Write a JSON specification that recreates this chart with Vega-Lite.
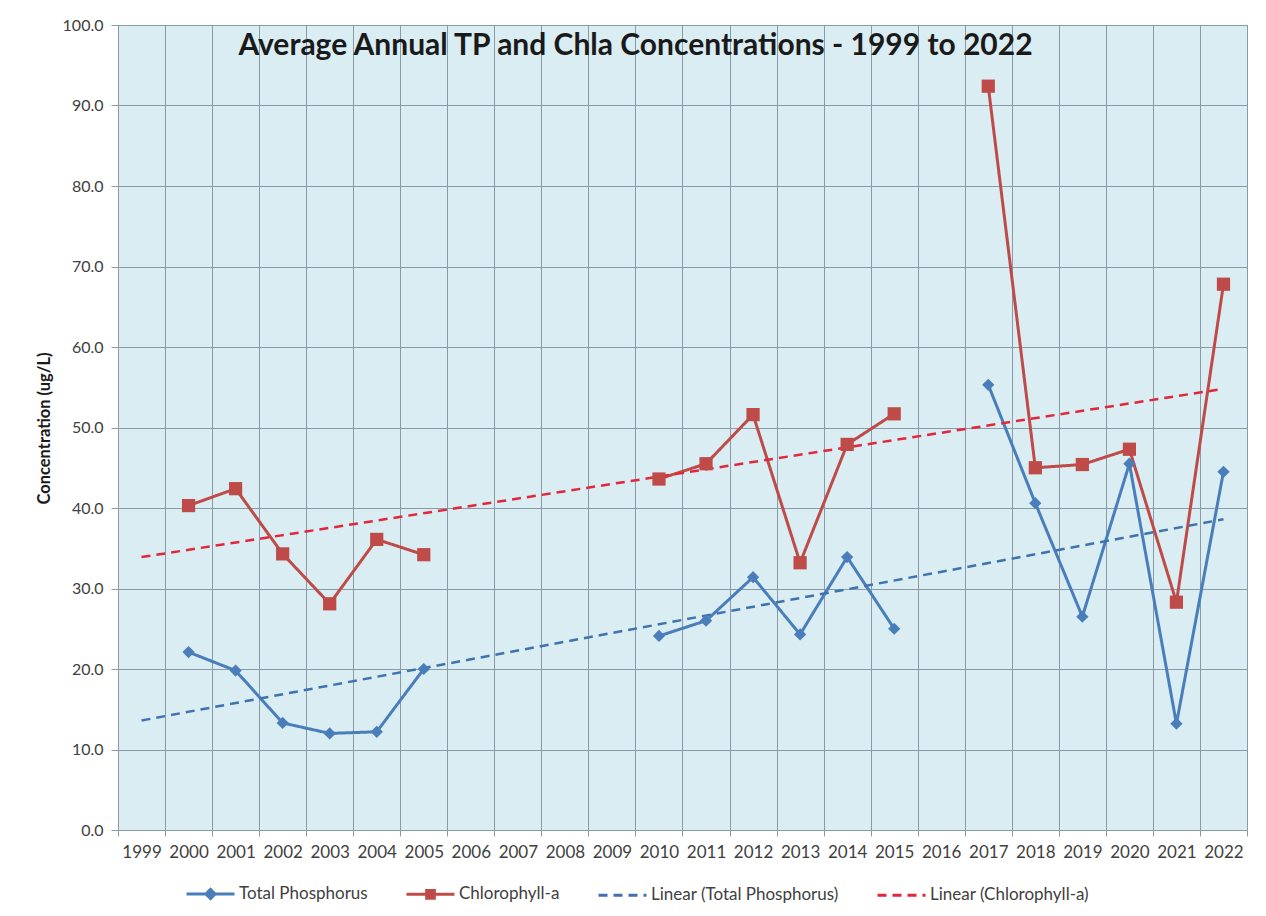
{
  "$schema": "https://vega.github.io/schema/vega-lite/v6.json",
  "width": 1129,
  "height": 805,
  "autosize": {"type": "none"},
  "padding": {"left": 118, "top": 25, "right": 19, "bottom": 86},
  "background": "#ffffff",
  "title": {
    "text": "Average Annual TP and Chla Concentrations - 1999 to 2022",
    "font": "Lato",
    "fontSize": 30,
    "fontWeight": "bold",
    "color": "#1a1a1a",
    "anchor": "middle",
    "frame": "group",
    "baseline": "alphabetic",
    "offset": -68,
    "dx": -47
  },
  "config": {
    "font": "Lato",
    "view": {"fill": "#DAEDF3", "stroke": "#8A9BA7", "strokeWidth": 1}
  },
  "data": {
    "values": [
      {"year": 2000, "series": "Total Phosphorus", "value": 22.1},
      {"year": 2001, "series": "Total Phosphorus", "value": 19.8},
      {"year": 2002, "series": "Total Phosphorus", "value": 13.3},
      {"year": 2003, "series": "Total Phosphorus", "value": 12.0},
      {"year": 2004, "series": "Total Phosphorus", "value": 12.2},
      {"year": 2005, "series": "Total Phosphorus", "value": 20.0},
      {"year": 2006, "series": "Total Phosphorus", "value": null},
      {"year": 2010, "series": "Total Phosphorus", "value": 24.1},
      {"year": 2011, "series": "Total Phosphorus", "value": 26.0},
      {"year": 2012, "series": "Total Phosphorus", "value": 31.4},
      {"year": 2013, "series": "Total Phosphorus", "value": 24.3},
      {"year": 2014, "series": "Total Phosphorus", "value": 33.9},
      {"year": 2015, "series": "Total Phosphorus", "value": 25.0},
      {"year": 2016, "series": "Total Phosphorus", "value": null},
      {"year": 2017, "series": "Total Phosphorus", "value": 55.3},
      {"year": 2018, "series": "Total Phosphorus", "value": 40.6},
      {"year": 2019, "series": "Total Phosphorus", "value": 26.5},
      {"year": 2020, "series": "Total Phosphorus", "value": 45.5},
      {"year": 2021, "series": "Total Phosphorus", "value": 13.2},
      {"year": 2022, "series": "Total Phosphorus", "value": 44.5},
      {"year": 2000, "series": "Chlorophyll-a", "value": 40.3},
      {"year": 2001, "series": "Chlorophyll-a", "value": 42.4},
      {"year": 2002, "series": "Chlorophyll-a", "value": 34.3},
      {"year": 2003, "series": "Chlorophyll-a", "value": 28.1},
      {"year": 2004, "series": "Chlorophyll-a", "value": 36.1},
      {"year": 2005, "series": "Chlorophyll-a", "value": 34.2},
      {"year": 2006, "series": "Chlorophyll-a", "value": null},
      {"year": 2010, "series": "Chlorophyll-a", "value": 43.6},
      {"year": 2011, "series": "Chlorophyll-a", "value": 45.5},
      {"year": 2012, "series": "Chlorophyll-a", "value": 51.6},
      {"year": 2013, "series": "Chlorophyll-a", "value": 33.2},
      {"year": 2014, "series": "Chlorophyll-a", "value": 47.9},
      {"year": 2015, "series": "Chlorophyll-a", "value": 51.7},
      {"year": 2016, "series": "Chlorophyll-a", "value": null},
      {"year": 2017, "series": "Chlorophyll-a", "value": 92.4},
      {"year": 2018, "series": "Chlorophyll-a", "value": 45.0},
      {"year": 2019, "series": "Chlorophyll-a", "value": 45.4},
      {"year": 2020, "series": "Chlorophyll-a", "value": 47.3},
      {"year": 2021, "series": "Chlorophyll-a", "value": 28.3},
      {"year": 2022, "series": "Chlorophyll-a", "value": 67.8},
      {"year": 1999, "series": "Linear (Total Phosphorus)", "value": 13.6},
      {"year": 2022, "series": "Linear (Total Phosphorus)", "value": 38.6},
      {"year": 1999, "series": "Linear (Chlorophyll-a)", "value": 33.9},
      {"year": 2022, "series": "Linear (Chlorophyll-a)", "value": 54.8}
    ]
  },
  "encoding": {
    "x": {
      "field": "year",
      "type": "ordinal",
      "scale": {
        "type": "band",
        "domain": [1999, 2000, 2001, 2002, 2003, 2004, 2005, 2006, 2007, 2008, 2009, 2010, 2011, 2012, 2013, 2014, 2015, 2016, 2017, 2018, 2019, 2020, 2021, 2022],
        "paddingInner": 0,
        "paddingOuter": 0
      },
      "axis": {
        "title": null,
        "tickBand": "extent",
        "grid": true,
        "gridColor": "#8A9BA7",
        "gridOpacity": 1,
        "domainColor": "#8A9BA7",
        "tickColor": "#8A9BA7",
        "tickSize": 6,
        "labelAngle": 0,
        "labelFont": "Lato",
        "labelFontSize": 17,
        "labelColor": "#404040",
        "labelPadding": 8
      }
    },
    "y": {
      "field": "value",
      "type": "quantitative",
      "scale": {"domain": [0, 100], "nice": false},
      "axis": {
        "title": "Concentration (ug/L)",
        "titleFont": "Lato",
        "titleFontSize": 16.5,
        "titleFontWeight": "bold",
        "titleColor": "#1a1a1a",
        "titleAngle": 270,
        "titleAlign": "center",
        "titleBaseline": "middle",
        "titleX": -74,
        "titleY": 403,
        "values": [0, 10, 20, 30, 40, 50, 60, 70, 80, 90, 100],
        "format": ".1f",
        "grid": true,
        "gridColor": "#8A9BA7",
        "gridOpacity": 1,
        "domainColor": "#8A9BA7",
        "tickColor": "#8A9BA7",
        "tickSize": 7,
        "labelFont": "Lato",
        "labelFontSize": 16,
        "labelColor": "#404040",
        "labelPadding": 8
      }
    },
    "color": {
      "field": "series",
      "type": "nominal",
      "scale": {
        "domain": ["Total Phosphorus", "Chlorophyll-a", "Linear (Total Phosphorus)", "Linear (Chlorophyll-a)"],
        "range": ["#4A7EBB", "#BE4B48", "#3F73AE", "#E3263B"]
      },
      "legend": {
        "title": null,
        "orient": "none",
        "legendX": 67,
        "legendY": 843,
        "direction": "horizontal",
        "columns": 4,
        "columnPadding": 32,
        "labelFont": "Lato",
        "labelFontSize": 17,
        "labelColor": "#404040",
        "labelLimit": 400,
        "labelOffset": 3,
        "symbolSize": 2304,
        "symbolStrokeWidth": 3,
        "symbolOpacity": 1
      }
    }
  },
  "layer": [
    {
      "transform": [{"filter": "datum.series === 'Total Phosphorus' || datum.series === 'Chlorophyll-a'"}],
      "mark": {"type": "line", "strokeWidth": 3, "opacity": 1},
      "encoding": {
        "strokeDash": {
          "field": "series",
          "type": "nominal",
          "scale": {
            "domain": ["Total Phosphorus", "Chlorophyll-a", "Linear (Total Phosphorus)", "Linear (Chlorophyll-a)"],
            "range": [[1, 0], [1, 0], [9, 6], [9, 6]]
          }
        }
      }
    },
    {
      "transform": [{"filter": "datum.series === 'Linear (Total Phosphorus)' || datum.series === 'Linear (Chlorophyll-a)'"}],
      "mark": {"type": "line", "strokeWidth": 2.5, "opacity": 1},
      "encoding": {
        "strokeDash": {
          "field": "series",
          "type": "nominal",
          "scale": {
            "domain": ["Total Phosphorus", "Chlorophyll-a", "Linear (Total Phosphorus)", "Linear (Chlorophyll-a)"],
            "range": [[1, 0], [1, 0], [9, 6], [9, 6]]
          }
        }
      }
    },
    {
      "transform": [{"filter": "datum.series === 'Total Phosphorus' && isValid(datum.value)"}],
      "mark": {"type": "point", "shape": "diamond", "filled": true, "size": 150, "opacity": 1}
    },
    {
      "transform": [{"filter": "datum.series === 'Chlorophyll-a' && isValid(datum.value)"}],
      "mark": {"type": "point", "shape": "square", "filled": true, "size": 175, "opacity": 1}
    },
    {
      "transform": [{"filter": "isValid(datum.value)"}],
      "mark": {"type": "point", "filled": true, "opacity": 0, "size": 0},
      "encoding": {
        "shape": {
          "field": "series",
          "type": "nominal",
          "scale": {
            "domain": ["Total Phosphorus", "Chlorophyll-a", "Linear (Total Phosphorus)", "Linear (Chlorophyll-a)"],
            "range": ["M-1,0H1M0,-0.19L0.19,0L0,0.19L-0.19,0Z", "M-1,0H1M-0.16,-0.16H0.16V0.16H-0.16Z", "stroke", "stroke"]
          }
        }
      }
    }
  ]
}
